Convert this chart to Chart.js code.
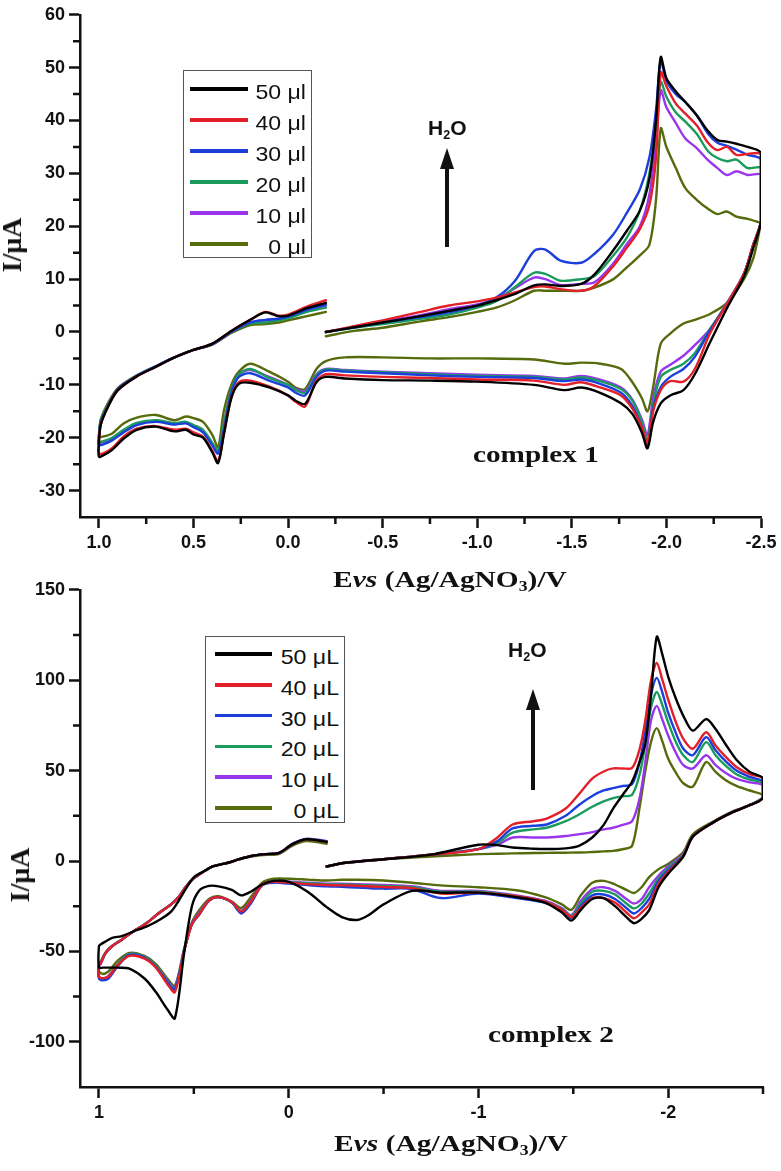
<!DOCTYPE html>
<html lang="en">
  <head>
    <meta charset="UTF-8" />
    <title>CV of complexes 1 and 2 with added water</title>
    <script src="https://cdn.jsdelivr.net/npm/chart.js"></script>
    <style>
      * { margin: 0; padding: 0; box-sizing: border-box; }
      body { width: 781px; height: 1171px; position: relative; overflow: hidden; background: #fff; color: #111; font-family: "Liberation Sans", Arial, sans-serif; }
      canvas { position: absolute; left: 0; }
      #chart1 { top: 0; }
      #chart2 { top: 575px; }
      .lbl { position: absolute; white-space: nowrap; }
      .serif { font-family: "Liberation Serif", "Times New Roman", serif; font-weight: bold; }
      .ytitle { font-size: 28px; line-height: 28px; transform: translate(-50%, -50%) rotate(-90deg); }
      .xtitle { font-size: 23px; line-height: 23px; transform: translateX(-50%) scaleX(1.28); }
      .note { font-size: 23px; line-height: 23px; transform: scaleX(1.27); transform-origin: left center; }
      .h2o { font-weight: bold; font-size: 21px; line-height: 21px; }
      sub { font-size: 0.6em; vertical-align: -0.3em; line-height: 0; }
      .legend { position: absolute; border: 1.5px solid #555; background: #fff; }
      .swatch { position: absolute; height: 3.5px; }
      .entry { position: absolute; width: 120px; text-align: right; font-size: 21px; line-height: 24px; transform: scaleX(1.1); transform-origin: right center; }
      .shaft { position: absolute; width: 4px; background: #111; }
      .shaft::before { content: ""; position: absolute; left: 50%; top: -21px; transform: translateX(-50%); border-left: 7px solid transparent; border-right: 7px solid transparent; border-bottom: 21px solid #111; }
    </style>
  </head>
  <body>
    <canvas id="chart1" width="781" height="575"></canvas>
    <canvas id="chart2" width="781" height="596"></canvas>

    <div class="lbl serif ytitle" style="left: 12px; top: 245px">I/μA</div>
    <div class="lbl serif xtitle" style="left: 450px; top: 568px">E<i>vs</i> (Ag/AgNO<sub>3</sub>)/V</div>
    <div class="lbl h2o" style="left: 428px; top: 117px">H<sub>2</sub>O</div>
    <div class="shaft" style="left: 444.7px; top: 169px; height: 78px"></div>
    <div class="lbl serif note" style="left: 473px; top: 443px">complex 1</div>

    <div class="lbl serif ytitle" style="left: 20px; top: 875px">I/μA</div>
    <div class="lbl serif xtitle" style="left: 451px; top: 1132px">E<i>vs</i> (Ag/AgNO<sub>3</sub>)/V</div>
    <div class="lbl h2o" style="left: 508px; top: 639px">H<sub>2</sub>O</div>
    <div class="shaft" style="left: 531.3px; top: 710px; height: 80px"></div>
    <div class="lbl serif note" style="left: 488px; top: 1023px">complex 2</div>

    <script>
      const SERIES_1 = ["50 μl", "40 μl", "30 μl", "20 μl", "10 μl", "0 μl"];
      const SERIES_2 = ["50 μL", "40 μL", "30 μL", "20 μL", "10 μL", "0 μL"];
      const COLORS = ["#000000", "#e3202a", "#1c3fdc", "#1a9b5c", "#9a35ee", "#556b0c"];

      // complex 1: potential (V) along the sweep: upper branch right part, return branch, upper branch left part
      const E1_fwd = [-0.2, -0.35, -0.5, -0.7, -0.85, -1.0, -1.1, -1.2, -1.3, -1.36, -1.44, -1.55, -1.62, -1.72, -1.79, -1.86, -1.91, -1.945, -1.97, -2.0, -2.05, -2.1, -2.16, -2.22, -2.27, -2.32, -2.37, -2.43, -2.5];
      const E1_rev = [-2.5, -2.46, -2.41, -2.32, -2.23, -2.15, -2.09, -2.02, -1.97, -1.93, -1.9, -1.87, -1.82, -1.76, -1.65, -1.55, -1.46, -1.3, -1.0, -0.75, -0.5, -0.3, -0.2, -0.15, -0.09, -0.04, 0.0, 0.1, 0.2, 0.26, 0.3, 0.34, 0.37, 0.4, 0.45, 0.5, 0.54, 0.6, 0.7, 0.8, 0.87, 0.93, 0.98, 1.0];
      const E1_ret = [1.0, 0.99, 0.95, 0.9, 0.8, 0.7, 0.6, 0.5, 0.4, 0.3, 0.2, 0.12, 0.05, 0.0, -0.1, -0.2];

      // current (μA), same order as the potentials above
      const c1_50 = [0, 0.9, 1.8, 3, 4, 5, 6, 7.2, 8.8, 9, 8.7, 9.1, 10.9, 15.5, 19.1, 23, 29, 40, 52, 48, 45.5, 43.5, 41, 38, 36.3, 36, 35.6, 35, 33.8,
        21, 16, 10.5, 4.5, -2, -8, -11, -12, -13.5, -17, -22, -19, -15.5, -13.5, -11.5, -10.5, -11, -10, -9.4, -9.2, -9.1, -8.8, -8.5, -9.5, -13.6, -13, -12, -10.5, -9.6, -9.8, -12.5, -19.5, -24.8, -22.8, -20, -19.4, -18.5, -18.8, -17.9, -18.5, -20.2, -22.3, -23.4, -23.6,
        -21, -17.5, -14, -11, -8.4, -6.6, -4.8, -3.4, -2.2, 0.2, 2.3, 3.7, 3, 3.1, 4.5, 5.5];
      const c1_40 = [0, 1.1, 2.2, 3.8, 5, 5.8, 6.5, 7.5, 8.5, 8.6, 8.1, 7.8, 8.7, 12.5, 15.9, 19.5, 24, 33, 49.1, 46.5, 43.2, 41.3, 39.1, 35.8, 34.4, 35, 33.5, 33.7, 33.5,
        21, 16.6, 11, 5.3, -0.3, -7, -9.4, -9.3, -11, -15, -21, -18, -14.5, -12, -10.5, -9.5, -10, -9.2, -9, -8.7, -8.5, -8.2, -8, -9.2, -14.1, -13.2, -12, -10.3, -9.2, -9.5, -12.3, -19.3, -24.5, -22.5, -19.8, -19, -18.3, -18.5, -17.8, -18.3, -19.8, -22, -23, -23,
        -21, -17.5, -14, -11, -8.4, -6.6, -4.8, -3.4, -2.2, 0.2, 2.3, 3.8, 3.1, 3.3, 4.8, 6];
      const c1_30 = [0, 0.9, 1.8, 2.8, 3.7, 5, 6.5, 9.7, 15.3, 15.6, 13.5, 13.1, 14.8, 18.5, 22.5, 27, 33, 42, 51.3, 47.5, 45, 43.5, 41, 37.5, 35.8, 35.2, 34.5, 33.5, 32.6,
        21, 16.6, 11, 5.3, 0.3, -4.7, -7, -8.5, -10.4, -14.5, -21.5, -18, -14, -11.5, -9.8, -9, -9.3, -8.7, -8.5, -8.2, -7.8, -7.5, -7.3, -8.5, -12, -11.5, -10.5, -9.2, -7.8, -8.5, -11.5, -18.5, -23, -21.5, -19, -18, -17.3, -17.5, -17, -17.6, -19, -20.5, -21.3, -21.4,
        -20, -17, -13.8, -10.8, -8.3, -6.5, -4.8, -3.4, -2.3, 0, 1.8, 2.3, 2.5, 2.9, 4.2, 5.2];
      const c1_20 = [0, 0.8, 1.5, 2.5, 3.3, 4.6, 5.8, 8.5, 11.2, 11, 9.7, 10, 10.6, 14.5, 17.8, 23, 30, 39, 47.3, 44.5, 41.5, 39.8, 37.5, 34.2, 32.9, 32.3, 32.6, 31, 31,
        21, 16.6, 11, 5.3, 0.5, -4, -6, -7.2, -8.5, -13.5, -20.5, -17, -13, -10.8, -9.3, -8.6, -9, -8.5, -8.3, -8, -7.6, -7.3, -7.1, -8.2, -11.5, -11, -10, -8.7, -7, -8, -11, -17.5, -22.5, -21, -18.5, -17.6, -17, -17.2, -16.7, -17.2, -18.5, -20, -20.7, -20.8,
        -19.8, -16.8, -13.6, -10.8, -8.3, -6.5, -4.8, -3.4, -2.3, 0, 1.6, 1.8, 2.2, 2.6, 3.8, 4.6];
      const c1_10 = [0, 1, 2, 3.2, 4.3, 5.2, 6.2, 8.3, 10.3, 10, 8.9, 9.1, 9.4, 13, 16.6, 20, 26, 36, 45.7, 42.5, 39.5, 36.6, 34.8, 32.5, 31, 29.7, 30.4, 29.7, 29.7,
        21, 16.6, 11, 5.5, 0.5, -2.5, -4.5, -6.2, -7.5, -12.5, -19.5, -16.5, -12.8, -10.5, -9, -8.3, -8.8, -8.3, -8.1, -7.8, -7.5, -7.2, -7, -8, -11.2, -10.8, -10, -8.5, -7.2, -8, -11, -17.5, -22.8, -21.2, -18.8, -17.8, -17.2, -17.4, -16.8, -17.4, -18.8, -20.3, -20.9, -21,
        -20, -17, -13.8, -10.8, -8.3, -6.5, -4.8, -3.4, -2.3, 0, 1.8, 2.2, 2.5, 2.9, 4, 5];
      const c1_0 = [-0.8, 0.2, 0.8, 2, 2.8, 3.8, 4.6, 6, 7.8, 7.8, 7.8, 7.8, 8.4, 10, 12.2, 14.5, 16.5, 25, 38.5, 35, 31, 27.2, 25, 23.3, 22.3, 22.8, 21.8, 21.4, 20.6,
        20.6, 14, 10, 5.5, 3.4, 2.3, 1.6, -0.3, -2.2, -10.4, -15, -12.5, -9.5, -7, -6, -5.8, -6, -5.2, -5, -5, -4.8, -4.8, -5.5, -7, -10.8, -10.5, -9.4, -7.5, -6, -7.5, -10, -15, -21.8, -19.5, -17, -16.3, -16, -16.7, -15.7, -16.2, -17.3, -19.2, -19.8, -19.8,
        -19.5, -16.5, -13.3, -10.6, -8.2, -6.5, -4.8, -3.4, -2.4, -0.2, 1.3, 1.5, 1.8, 2.2, 3, 3.8];

      // complex 2
      const E2_fwd = [-0.2, -0.3, -0.5, -0.75, -1.0, -1.1, -1.18, -1.29, -1.36, -1.46, -1.53, -1.6, -1.66, -1.71, -1.76, -1.81, -1.85, -1.88, -1.91, -1.94, -1.97, -2.0, -2.04, -2.08, -2.13, -2.2, -2.25, -2.3, -2.36, -2.43, -2.5];
      const E2_rev = [-2.5, -2.42, -2.34, -2.24, -2.13, -2.08, -2.0, -1.95, -1.9, -1.86, -1.82, -1.78, -1.72, -1.66, -1.6, -1.54, -1.49, -1.44, -1.35, -1.2, -1.0, -0.8, -0.65, -0.5, -0.42, -0.36, -0.28, -0.2, -0.1, 0.0, 0.08, 0.14, 0.2, 0.25, 0.3, 0.37, 0.42, 0.47, 0.51, 0.55, 0.6, 0.64, 0.7, 0.76, 0.84, 0.9, 0.95, 0.98, 1.0];
      const E2_ret = [1.0, 0.99, 0.965, 0.93, 0.88, 0.82, 0.75, 0.68, 0.62, 0.58, 0.54, 0.5, 0.44, 0.4, 0.31, 0.26, 0.19, 0.12, 0.05, -0.02, -0.09, -0.15, -0.2];

      const c2_50 = [-3, -1, 1, 3.5, 9, 8.8, 7.5, 6.8, 6.6, 7, 8.4, 13, 20, 29, 36.5, 44, 55, 65, 92, 124, 114, 102, 90, 80.3, 72.1, 78.5, 73, 65, 56, 49.3, 45.7,
        35, 30.5, 27, 21.5, 13.5, 2.5, -7.1, -14.4, -27.2, -32, -34.4, -31, -25, -20.5, -21, -27, -33, -28.5, -23, -20, -17.5, -17.5, -16.5, -24, -30, -32.6, -31, -25.5, -17, -11.5, -11, -13, -17, -19, -16, -14, -13.8, -16.2, -25, -50, -87, -82, -72.5, -65, -59.5, -59, -59, -59, -59,
        -47, -46, -44.5, -42.5, -41.5, -39, -36.3, -32.5, -28, -22, -15, -9, -5.3, -3, -0.7, 1, 2.9, 3.8, 4.5, 9.3, 12, 11.5, 10.5];
      const c2_40 = [-3, -1, 1, 3.5, 6.6, 13, 20.2, 22, 23.5, 29, 37, 45.5, 49.5, 51.2, 51.2, 51.5, 62, 78, 100, 109.5, 100, 89.4, 77, 67.6, 62.1, 71.2, 63.9, 58, 52, 48, 45.7,
        35, 30.5, 27, 21.5, 13.5, 3, -6, -12.5, -24, -28.5, -31.7, -28.5, -23, -20.5, -20.5, -26, -31, -27, -22.5, -19.5, -17.5, -18, -15, -14.4, -14, -13.7, -13.5, -13.3, -12.8, -12, -11.5, -13.3, -22.5, -28, -22.7, -20, -21.8, -29.2, -35, -49.5, -72.5, -68, -59, -54, -52.5, -57.5, -64, -64.8, -64,
        -58, -56.3, -50.8, -47, -43.5, -39, -34.4, -28.5, -24, -19.9, -14, -9.5, -5.3, -3, -0.7, 1, 2.9, 3.8, 4.5, 9.3, 12, 11.5, 10.5];
      const c2_30 = [-3, -1, 1, 3.5, 6.6, 11, 18, 19.5, 20.2, 25, 31, 36, 39, 40.3, 41.5, 42.5, 55, 72, 92, 101.3, 93, 82, 71, 62.1, 58.5, 68.5, 61.2, 55.5, 50, 46.5, 43.9,
        35, 30.5, 27, 21.5, 13.5, 3, -5, -11, -21, -26, -29, -26, -21, -18.5, -19, -25, -31.5, -27, -23, -20.5, -18, -20.5, -15.5, -15.3, -15, -14.7, -14.3, -14, -13.3, -12.5, -12, -13.5, -23.5, -29, -23, -20, -22, -29.5, -35, -49, -71, -67, -58.5, -53.5, -52, -58, -65, -66, -65,
        -58.5, -56.5, -51, -47, -43.5, -39, -34.4, -28.5, -24, -19.9, -14, -9.5, -5.3, -3, -0.7, 1, 2.9, 3.8, 4.5, 9.5, 12.2, 11.8, 11];
      const c2_20 = [-3, -1, 1, 3.5, 6.6, 10, 15.7, 17.5, 18.4, 22, 25.7, 30, 33, 34.8, 35.8, 36.6, 48, 65, 85, 93.5, 86, 76.7, 66, 58.5, 54.8, 65.7, 58.5, 53, 48, 45, 43,
        35, 30.5, 27, 21.5, 13.5, 3.5, -4, -9.5, -18, -23.5, -26.2, -23.5, -18.5, -16.5, -17, -23.5, -30.5, -26.5, -22.5, -19.5, -17, -17, -14.5, -13.8, -13.5, -13.2, -13, -13, -12.3, -11.8, -11.6, -13.3, -22.5, -28, -22.8, -20, -21.8, -29, -35, -49, -70.5, -66.5, -58, -53, -51.5, -57, -64, -65.5, -64.5,
        -58, -56.3, -50.8, -47, -43.5, -39, -34.4, -28.5, -24, -19.9, -14, -9.5, -5.3, -3, -0.7, 1, 2.9, 3.8, 4.5, 9.3, 12, 11.5, 10.5];
      const c2_10 = [-3, -1, 1, 3.5, 6.6, 9, 13, 13, 13, 13.8, 14.8, 16, 17.5, 18.4, 20, 22, 35, 55, 78, 85.8, 78, 69.4, 60, 53, 51.2, 58.5, 53, 49, 45.5, 43.5, 42,
        35, 30.5, 27, 21.5, 13.5, 4, -3, -8, -14.5, -21, -23.5, -21, -16.5, -14.5, -15.5, -22, -30, -26, -22, -19, -16.5, -16.5, -14, -13.2, -13, -12.8, -12.5, -12.5, -12, -11.5, -11.3, -13, -22, -27.5, -22.8, -20, -21.7, -28.5, -34.5, -49, -70, -66, -58, -53, -51.5, -57, -63.5, -65, -64,
        -58, -56.3, -50.8, -47, -43.5, -39, -34.4, -28.5, -24, -19.9, -14, -9.5, -5.3, -3, -0.7, 1, 2.9, 3.8, 4.5, 9.3, 12, 11.5, 10.8];
      const c2_0 = [-3, -1, 1, 2.5, 3.8, 4, 4.2, 4.4, 4.5, 4.6, 4.7, 5, 5.3, 5.6, 6.5, 8.4, 30, 50, 66, 73.5, 66, 56.7, 49, 43, 41.1, 54.8, 49.3, 45, 41.5, 39, 36.6,
        35, 30.5, 27.5, 22, 14.8, 5, -1.6, -4.5, -8.9, -14.5, -17.7, -16, -13, -11, -12, -19, -27, -24, -20, -16.2, -14.5, -13.5, -12, -10.8, -10.5, -10.4, -10.4, -10.8, -10.3, -9.8, -9.8, -12, -20, -26, -22.5, -19.5, -21, -27, -34, -48, -69, -65, -57, -52.5, -50.8, -55, -61, -62.5, -61,
        -57, -55.5, -50.5, -47, -43.5, -39, -34.4, -28.5, -24, -19.9, -14, -9.5, -5.3, -3, -0.7, 1, 2.6, 3.4, 4, 8.5, 11, 10.5, 9.5];

      // axis ticks
      const X1_TICKS = [1.0, 0.5, 0, -0.5, -1.0, -1.5, -2.0, -2.5];
      const X1_MINOR = [0.75, 0.25, -0.25, -0.75, -1.25, -1.75, -2.25];
      const Y1_TICKS = [-30, -20, -10, 0, 10, 20, 30, 40, 50, 60];
      const Y1_MINOR = [-25, -15, -5, 5, 15, 25, 35, 45, 55];
      const X2_TICKS = [1, 0, -1, -2];
      const X2_MINOR = [0.5, -0.5, -1.5, -2.5];
      const Y2_TICKS = [-100, -50, 0, 50, 100, 150];
      const Y2_MINOR = [-75, -25, 25, 75, 125];

      const INK = "#111";
      const tickFont = { family: "'Liberation Sans', Arial, sans-serif", size: 18, weight: "bold" };

      // short unlabeled ticks between the labeled ones
      const minorTicks = {
        id: "minorTicks",
        afterDraw(chart, args, opts) {
          const { ctx, chartArea: a, scales } = chart;
          ctx.save();
          ctx.strokeStyle = INK;
          ctx.lineWidth = 2.5;
          ctx.beginPath();
          opts.x.forEach((v) => {
            const p = scales.x.getPixelForValue(v);
            ctx.moveTo(p, a.bottom);
            ctx.lineTo(p, a.bottom + 7);
          });
          opts.y.forEach((v) => {
            const p = scales.y.getPixelForValue(v);
            ctx.moveTo(a.left, p);
            ctx.lineTo(a.left - 7, p);
          });
          ctx.stroke();
          ctx.restore();
        },
      };

      function axis(ticks, fmt, min, max, reverse, fit) {
        return {
          type: "linear",
          min,
          max,
          reverse,
          afterBuildTicks: (s) => { s.ticks = ticks.map((v) => ({ value: v })); },
          afterFit: fit,
          grid: { drawOnChartArea: false, tickLength: 11, tickWidth: 2.5, tickColor: INK },
          border: { color: INK, width: 2.5 },
          ticks: { color: INK, font: tickFont, padding: 4, autoSkip: false, maxRotation: 0, callback: fmt },
        };
      }

      function cvChart(id, o) {
        const E = [...o.E[0], ...o.E[1], ...o.E[2]];
        o.curves.forEach((ys) => {
          if (ys.length !== E.length) console.warn(id, "length mismatch", ys.length, E.length);
        });
        return new Chart(document.getElementById(id), {
          type: "scatter",
          data: {
            datasets: o.curves.map((ys, k) => ({
              label: o.names[k],
              data: E.map((x, i) => ({ x, y: ys[i] })),
              showLine: true,
              borderColor: COLORS[k],
              backgroundColor: COLORS[k],
              borderWidth: 2.4,
              pointRadius: 0,
              tension: 0.3,
              borderJoinStyle: "round",
              borderCapStyle: "round",
            })),
          },
          options: {
            responsive: false,
            animation: false,
            events: [],
            layout: { padding: o.pad },
            plugins: {
              legend: { display: false },
              tooltip: { enabled: false },
              minorTicks: { x: o.xMinor, y: o.yMinor },
            },
            scales: {
              x: axis(o.xTicks, o.xFmt, -2.5, 1.1, true, (s) => { s.height = o.xH; }),
              y: axis(o.yTicks, (v) => String(v), o.yMin, o.yMax, false, (s) => { s.width = 80; }),
            },
          },
          plugins: [minorTicks],
        });
      }

      cvChart("chart1", {
        E: [E1_fwd, E1_rev, E1_ret],
        curves: [c1_50, c1_40, c1_30, c1_20, c1_10, c1_0],
        names: SERIES_1,
        xTicks: X1_TICKS, xMinor: X1_MINOR, xFmt: (v) => Number(v).toFixed(1),
        yTicks: Y1_TICKS, yMinor: Y1_MINOR, yMin: -35, yMax: 60,
        pad: { top: 13, right: 20, left: 0, bottom: 0 },
        xH: 58,
      });

      cvChart("chart2", {
        E: [E2_fwd, E2_rev, E2_ret],
        curves: [c2_50, c2_40, c2_30, c2_20, c2_10, c2_0],
        names: SERIES_2,
        xTicks: X2_TICKS, xMinor: X2_MINOR, xFmt: (v) => String(Math.round(v)),
        yTicks: Y2_TICKS, yMinor: Y2_MINOR, yMin: -125, yMax: 150,
        pad: { top: 9, right: 18, left: 0, bottom: 0 },
        xH: 84,
      });

      // legends drawn as boxes inside the plot, built from the series names and colours
      function legend(box, rows, line, textRight, names) {
        const b = document.createElement("div");
        b.className = "legend";
        Object.assign(b.style, { left: box[0] + "px", top: box[1] + "px", width: box[2] + "px", height: box[3] + "px" });
        document.body.appendChild(b);
        names.forEach((name, k) => {
          const sw = document.createElement("div");
          sw.className = "swatch";
          Object.assign(sw.style, { left: line[0] + "px", width: line[1] - line[0] + "px", top: rows[k] - 1.75 + "px", background: COLORS[k] });
          document.body.appendChild(sw);
          const t = document.createElement("div");
          t.className = "entry";
          t.textContent = name;
          Object.assign(t.style, { left: textRight - 120 + "px", top: rows[k] - 9 + "px" });
          document.body.appendChild(t);
        });
      }

      legend([183, 70, 129, 188], [89, 120, 151, 182, 213, 244], [190, 248], 306, SERIES_1);
      legend([205, 636, 140, 187], [654, 684.8, 715.6, 746.4, 777.2, 808], [215, 272], 339, SERIES_2);
    </script>
  </body>
</html>
